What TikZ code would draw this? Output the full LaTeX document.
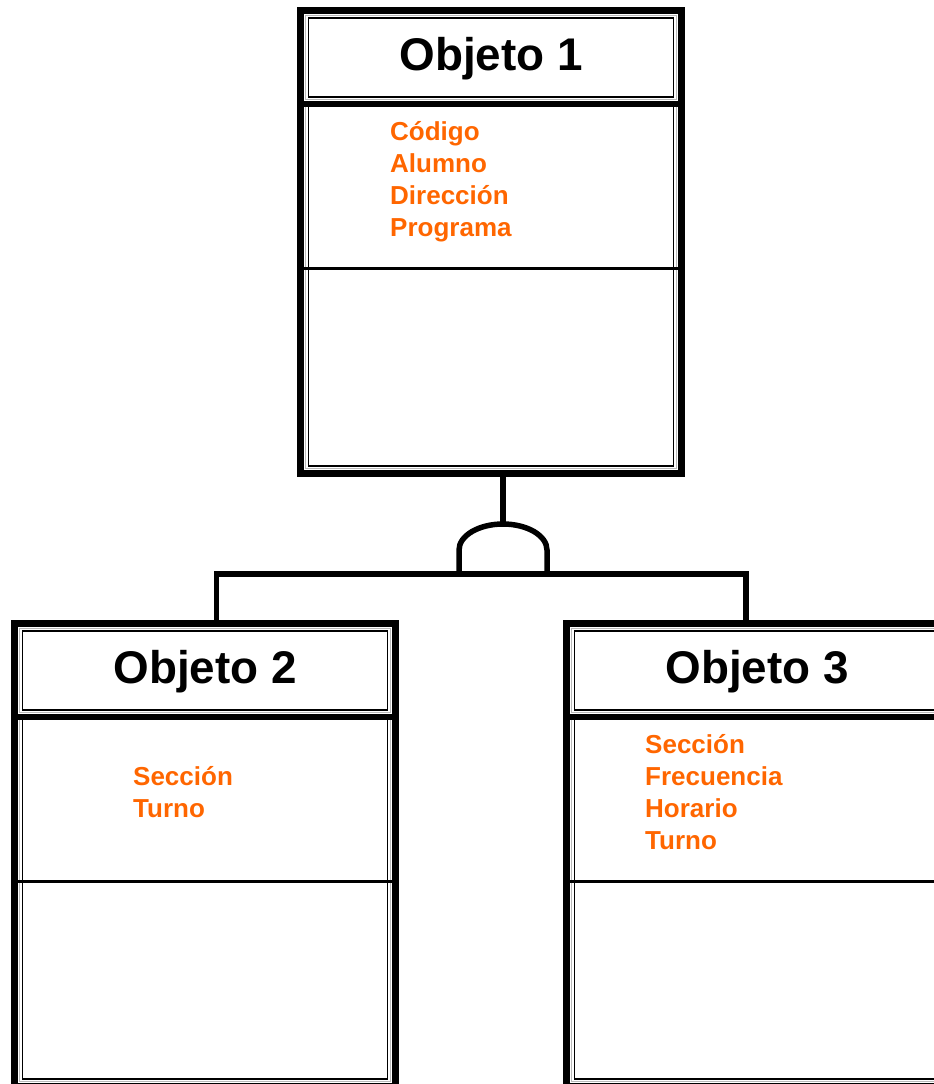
\documentclass[tikz,border=0pt]{standalone}
\usepackage{fontspec}
\setmainfont{Liberation Sans}
\usetikzlibrary{calc}
\definecolor{attrorange}{HTML}{FF6600}

\tikzset{
  objframe/.style={draw, rectangle, line width=7pt, minimum width=381pt,
    minimum height=463pt, inner sep=0pt, outer sep=3.5pt, anchor=north west},
  ghostrule/.style={draw=gray!55, line width=1pt},
  thinrule/.style={draw=black, line width=1.9pt},
  headbar/.style={draw=black, line width=6.5pt},
  seprule/.style={draw=black, line width=3pt},
  link/.style={draw=black, line width=5.5pt},
  objtitle/.style={font=\fontsize{45.8}{54}\selectfont\bfseries, anchor=base,
    inner sep=0pt},
  attr/.style={font=\fontsize{26}{30}\selectfont\bfseries, text=attrorange,
    anchor=base west, inner sep=0pt},
}

% Class box: thick frame, double-ruled title cell, attribute and method cells
\newcommand{\drawobject}[4]{%
  \node[objframe] (#1) at (#2,#3) {};
  \begin{scope}[shift={(#1.north west)}]
    % title cell
    \draw[ghostrule] (8.5,8.5) rectangle (379.5,92.5);
    \draw[thinrule] (11.5,11) rectangle (376.5,90);
    % body cell
    \draw[ghostrule] (8.5,100) -- (8.5,461.5) -- (379.5,461.5) -- (379.5,100);
    \draw[thinrule] (11.5,100) -- (11.5,459) -- (376.5,459) -- (376.5,100);
    % bar under the title and rule between attributes and methods
    \draw[headbar] (0,97) -- (388,97);
    \draw[seprule] (7,261) -- (381,261);
    \node[objtitle] (#1-title) at (194,63) {#4};
  \end{scope}
}

\begin{document}
\begin{tikzpicture}[x=1pt, y=-1pt]
  \useasboundingbox (0,0) rectangle (934,1084);
  \clip (0,0) rectangle (934,1084);

  \drawobject{obj1}{297}{7}{Objeto 1}
  \drawobject{obj2}{11}{620}{Objeto 2}
  \drawobject{obj3}{563}{620}{Objeto 3}

  % attributes
  \begin{scope}[shift={(obj1.north west)}]
    \node[attr] (o1a) at (93,133) {Código};
    \node[attr] (o1b) at (93,165) {Alumno};
    \node[attr] (o1c) at (93,197) {Dirección};
    \node[attr] (o1d) at (93,229) {Programa};
  \end{scope}
  \begin{scope}[shift={(obj2.north west)}]
    \node[attr] (o2a) at (122,165) {Sección};
    \node[attr] (o2b) at (122,197) {Turno};
  \end{scope}
  \begin{scope}[shift={(obj3.north west)}]
    \node[attr] (o3a) at (82,133) {Sección};
    \node[attr] (o3b) at (82,165) {Frecuencia};
    \node[attr] (o3c) at (82,197) {Horario};
    \node[attr] (o3d) at (82,229) {Turno};
  \end{scope}

  % generalisation connector
  \coordinate (hub) at ($(obj1.south)+(12,0)$);
  \coordinate (barline) at ($(hub)+(0,97)$);
  \coordinate (c2) at ($(obj2.north)+(11.5,0)$);
  \coordinate (c3) at ($(obj3.north)+(-11,0)$);

  \draw[link] (hub) -- ++(0,47);
  \draw[link] ($(barline)+(-44,0)$) -- ++(0,-24)
    arc[start angle=180, end angle=0, x radius=44pt, y radius=26pt] -- ++(0,24);
  \draw[link] (c2) -- (c2 |- barline) -- (c3 |- barline) -- (c3);
\end{tikzpicture}
\end{document}
